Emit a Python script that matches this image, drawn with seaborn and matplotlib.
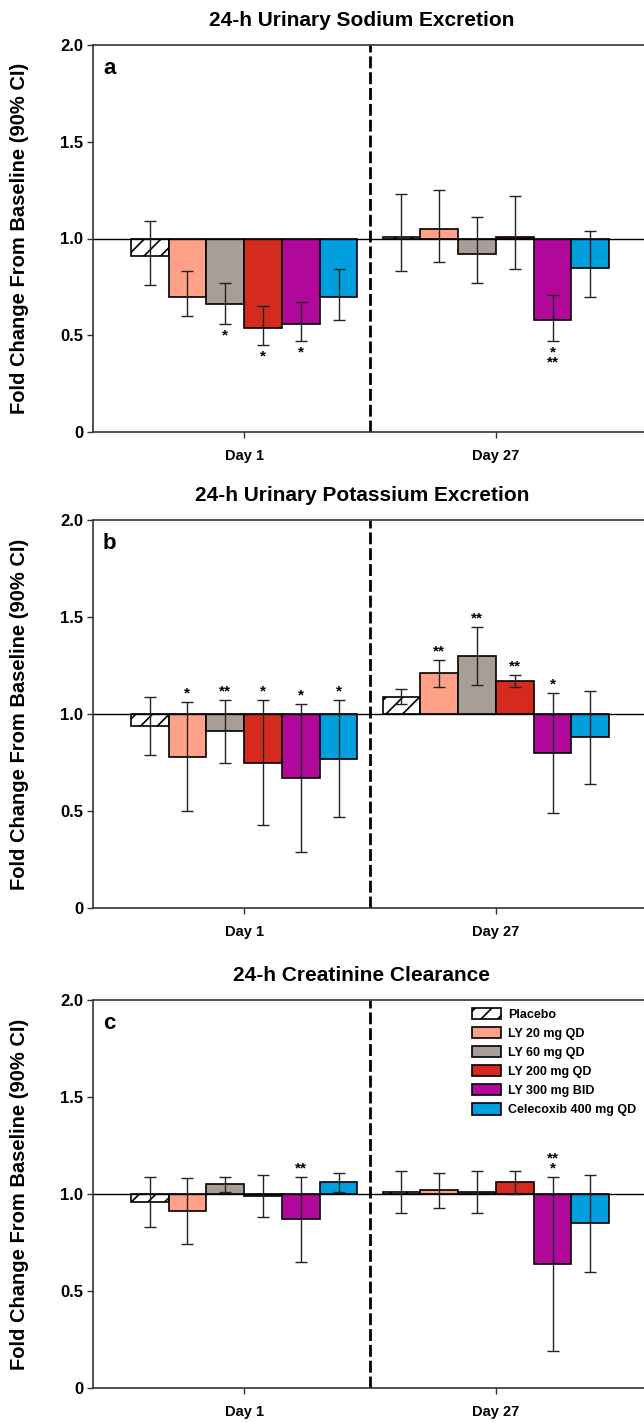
import matplotlib
matplotlib.use("Agg")
import matplotlib.pyplot as plt
import pandas as pd
import seaborn as sns

# data (fold change from baseline, 90% CI)
treatments = ["Placebo", "LY 20 mg QD", "LY 60 mg QD", "LY 200 mg QD",
              "LY 300 mg BID", "Celecoxib 400 mg QD"]
days = ["Day 1", "Day 27"]
colors = ["#FFFFFF", "#FFA189", "#A89E97", "#D52B1E", "#B1079A", "#009FDD"]
titles = ["24-h Urinary Sodium Excretion", "24-h Urinary Potassium Excretion",
          "24-h Creatinine Clearance"]
letters = ["a", "b", "c"]
ytick_vals = [0, 0.5, 1.0, 1.5, 2.0]
ytick_labels = ["0", "0.5", "1.0", "1.5", "2.0"]

# a: sodium
na_d1 = [0.91, 0.70, 0.66, 0.54, 0.56, 0.70]
na_d1_lo = [0.76, 0.60, 0.56, 0.45, 0.47, 0.58]
na_d1_hi = [1.09, 0.83, 0.77, 0.65, 0.67, 0.84]
na_d1_sig = ["", "", "*", "*", "*", ""]
na_d27 = [1.01, 1.05, 0.92, 1.01, 0.58, 0.85]
na_d27_lo = [0.83, 0.88, 0.77, 0.84, 0.47, 0.70]
na_d27_hi = [1.23, 1.25, 1.11, 1.22, 0.71, 1.04]
na_d27_sig = ["", "", "", "", "*\n**", ""]

# b: potassium
k_d1 = [0.94, 0.78, 0.91, 0.75, 0.67, 0.77]
k_d1_lo = [0.79, 0.50, 0.75, 0.43, 0.29, 0.47]
k_d1_hi = [1.09, 1.06, 1.07, 1.07, 1.05, 1.07]
k_d1_sig = ["", "*", "**", "*", "*", "*"]
k_d27 = [1.09, 1.21, 1.30, 1.17, 0.80, 0.88]
k_d27_lo = [1.05, 1.14, 1.15, 1.14, 0.49, 0.64]
k_d27_hi = [1.13, 1.28, 1.45, 1.20, 1.11, 1.12]
k_d27_sig = ["", "**", "**", "**", "*", ""]

# c: creatinine clearance
cr_d1 = [0.96, 0.91, 1.05, 0.99, 0.87, 1.06]
cr_d1_lo = [0.83, 0.74, 1.01, 0.88, 0.65, 1.01]
cr_d1_hi = [1.09, 1.08, 1.09, 1.10, 1.09, 1.11]
cr_d1_sig = ["", "", "", "", "**", ""]
cr_d27 = [1.01, 1.02, 1.01, 1.06, 0.64, 0.85]
cr_d27_lo = [0.90, 0.93, 0.90, 1.00, 0.19, 0.60]
cr_d27_hi = [1.12, 1.11, 1.12, 1.12, 1.09, 1.10]
cr_d27_sig = ["", "", "", "", "**\n*", ""]

panels = [
    (na_d1, na_d1_lo, na_d1_hi, na_d1_sig, na_d27, na_d27_lo, na_d27_hi, na_d27_sig, "below"),
    (k_d1, k_d1_lo, k_d1_hi, k_d1_sig, k_d27, k_d27_lo, k_d27_hi, k_d27_sig, "above"),
    (cr_d1, cr_d1_lo, cr_d1_hi, cr_d1_sig, cr_d27, cr_d27_lo, cr_d27_hi, cr_d27_sig, "above"),
]

sns.set_theme(style="ticks")
plt.rcParams["font.family"] = ["Liberation Sans", "DejaVu Sans"]
plt.rcParams["font.weight"] = "bold"
plt.rcParams["hatch.linewidth"] = 1.2
for key in ["text.color", "axes.labelcolor", "xtick.labelcolor", "ytick.labelcolor"]:
    plt.rcParams[key] = "black"

fig = plt.figure(figsize=(6.44, 14.23), dpi=100)
W, H = 644, 1423
ax_left, ax_right = 93, 647
ax_spans = [(45, 432), (520, 908), (1000, 1388)]

for k, (top, bot) in enumerate(ax_spans):
    ax = fig.add_axes([ax_left / W, 1 - bot / H, (ax_right - ax_left) / W, (bot - top) / H])
    d1, d1_lo, d1_hi, d1_sig, d27, d27_lo, d27_hi, d27_sig, star_side = panels[k]

    df = pd.DataFrame({
        "day": [days[0]] * 6 + [days[1]] * 6,
        "treatment": treatments * 2,
        "change": [v - 1 for v in d1 + d27],
    })
    sns.barplot(data=df, x="day", y="change", hue="treatment", order=days,
                hue_order=treatments, palette=colors, saturation=1, width=0.9,
                bottom=1, errorbar=None, edgecolor="black", linewidth=1.2,
                legend=False, ax=ax, zorder=2)
    bar_conts = list(ax.containers)

    for p in bar_conts[0]:
        p.set_facecolor("white")
        p.set_hatch("//")

    means = [d1, d27]
    los = [d1_lo, d27_lo]
    his = [d1_hi, d27_hi]
    sigs = [d1_sig, d27_sig]
    for i, cont in enumerate(bar_conts):
        for j, p in enumerate(cont.patches):
            xc = p.get_x() + p.get_width() / 2
            m, lo, hi = means[j][i], los[j][i], his[j][i]
            ax.errorbar(xc, m, yerr=[[m - lo], [hi - m]], fmt="none", ecolor="#222222",
                        elinewidth=1.0, capsize=4.5, capthick=1.0, zorder=3)
            s = sigs[j][i]
            if s:
                if star_side == "below":
                    ax.text(xc, lo - 0.025, s, ha="center", va="top", fontsize=11,
                            linespacing=0.6, fontweight="bold")
                else:
                    ax.text(xc, hi + 0.008, s, ha="center", va="bottom", fontsize=11,
                            linespacing=0.6, fontweight="bold")

    ax.axhline(1.0, color="black", lw=1.0, zorder=2.5)
    ax.axvline(0.5, color="black", lw=2.0, dashes=(4.3, 1.4), zorder=2.5)

    ax.set_xlim(-0.6, 1.6)
    ax.set_ylim(0, 2.0)
    ax.set_yticks(ytick_vals)
    ax.set_yticklabels(ytick_labels, fontsize=12, fontweight="bold")
    ax.set_xticks([0, 1])
    ax.set_xticklabels(days, fontsize=10.5, fontweight="bold")
    ax.tick_params(axis="y", length=4.5, width=1.0, pad=2.5, color="#333333")
    ax.tick_params(axis="x", length=4.5, width=1.0, pad=7.5, color="#333333")
    ax.set_xlabel("")
    ax.set_ylabel("Fold Change From Baseline (90% CI)", fontsize=14.5, fontweight="bold")
    ax.yaxis.set_label_coords(-0.116, 0.5)
    for side in ["left", "bottom", "top"]:
        ax.spines[side].set_linewidth(1.2)
        ax.spines[side].set_color("#333333")
    ax.spines["right"].set_visible(False)
    ax.set_title(titles[k], fontsize=15, fontweight="bold", pad=14, x=0.485)
    ax.text(0.018, 0.94, letters[k], transform=ax.transAxes, fontsize=16,
            fontweight="bold", ha="left", va="center")

    if k == 2:
        ax.legend(bar_conts, treatments, loc="upper left",
                  bbox_to_anchor=(0.684, 0.98), frameon=False,
                  prop={"weight": "bold", "size": 9}, handlelength=2.3,
                  handleheight=1.0, labelspacing=0.5, handletextpad=0.6,
                  borderpad=0, borderaxespad=0)

fig.savefig("out.png", dpi=100)
